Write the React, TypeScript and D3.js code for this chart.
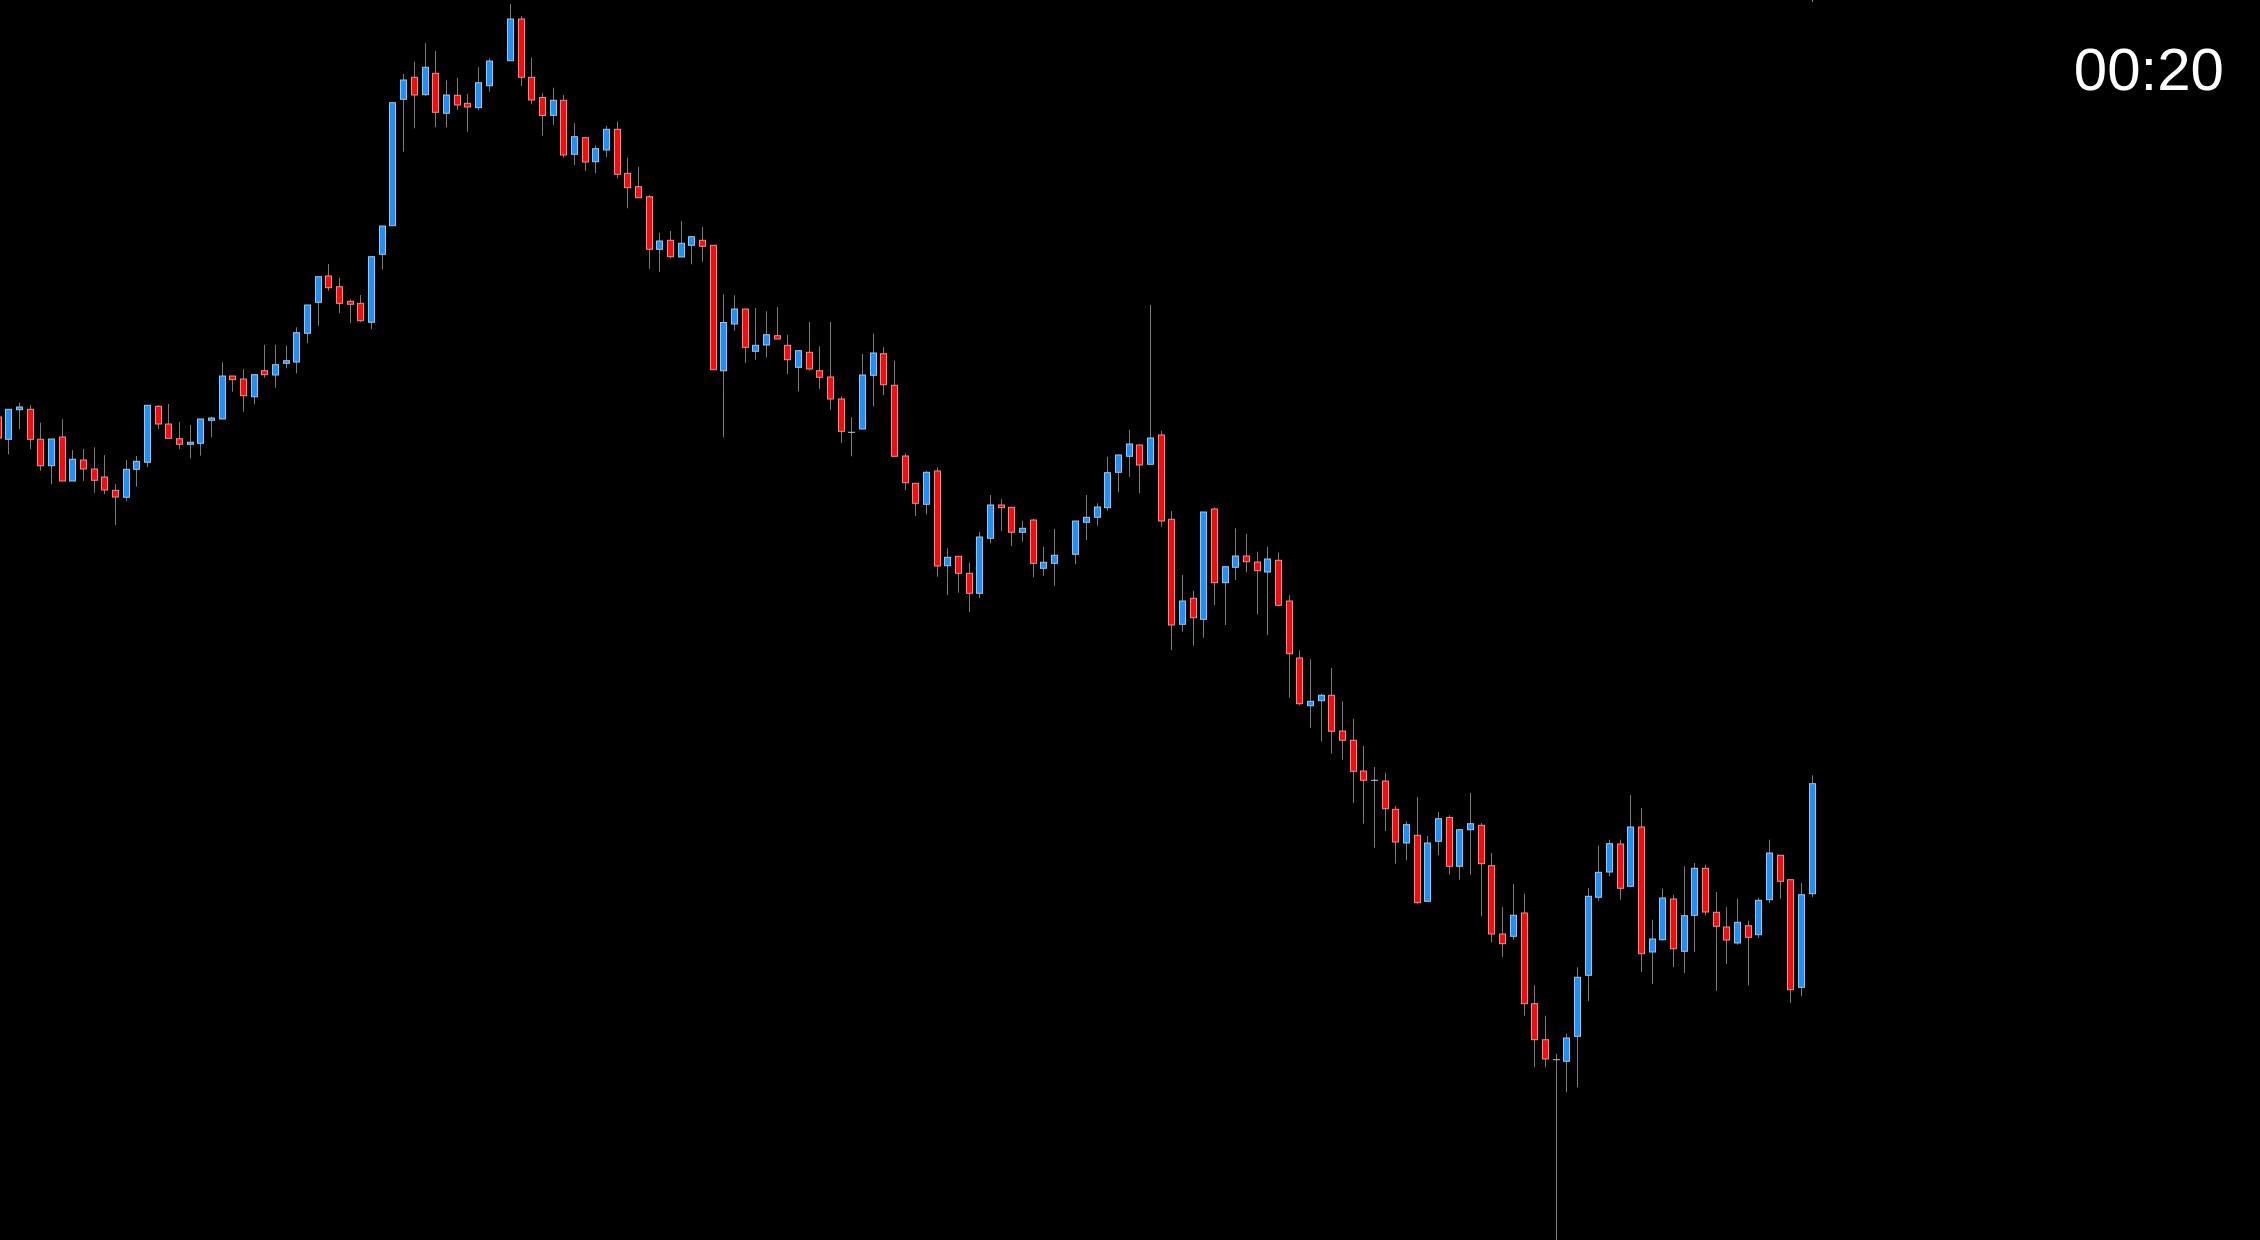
import React from 'react';
import * as d3 from 'd3';

// bar prices, oldest first (null = no bar drawn in that slot)
const opens = [
  823, 800.7, 830.3, 830.7, 800.7, 774.3, 803, 759, 780, 771, 763, 749.7, 742.7, 770.7, 777.7, 833.7, 816, 801.3, 795.7, 796.7,
  819.7, 821, 864, 861, 843.3, 869.3, 865, 876.7, 878, 906.7, 937.7, 964, 953.3, 938.7, 936.7, 917.7, 985.7, 1014.3, 1140.7, 1162.7,
  1145.3, 1166.7, 1126.7, 1144.7, 1136.7, 1132.3, 1154.3, null, 1179.3, 1221, 1162.7, 1142.5, 1124.7, 1139.7, 1085.7, 1102.3, 1078.3, 1090, 1110.7, 1066.7,
  1053.3, 1043.3, 990.7, 999.7, 983, 994.7, 999.7, 994.7, 869.2, 916, 931, 888.7, 895, 904.3, 894.7, 872.7, 887.7, 869.3, 863, 841,
  807.7, 811, 864.7, 886.3, 854.7, 784, 756.7, 735.7, 769, 674.3, 683.7, 666.7, 646.7, 701.7, 735, 732.7, 707.7, 720, 671.7, 676.7,
  null, 685.7, 717.7, 722.7, 732.3, 767.7, 783.7, 795, 775.7, 805, 720.7, 615.7, 641.7, 620.7, 731, 657.3, 672.7, 684, 678, 668,
  679.7, 639, 582, 534.3, 539.3, 544.7, 509, 499.7, 469, 459.7, 459, 430.7, 397, 404.7, 338.7, 398.7, 422.5, 373.7, 410.3, 414.7,
  374.3, 306, 303.7, 327, 236.3, 200.3, 180.3, 178.7, 203.7, 264.7, 342.7, 368, 396, 353.7, 413, 288, 300.3, 341, 288.7, 324.7,
  371.7, 327.7, 313, 297, 314.3, 305.3, 340.3, 384.7, 360.3, 252.7, 346.3,
];
const highs = [
  826, 830.7, 837.3, 835, 817.3, 801, 820.7, 790, 791, 792.7, 785, 755.7, 780, 784, 834.7, 835, 836, 818, 815, 821,
  823.3, 877.7, 864, 870.7, 865.3, 895, 895.3, 894.3, 912.7, 935, 963.3, 976, 962.3, 940.7, 945, 983.3, 1014, 1137.3, 1166, 1178.3,
  1196.7, 1189, 1159.7, 1162, 1146, 1172.7, 1181.7, null, 1236, 1224, 1182.3, 1147, 1152.3, 1145, 1116.7, 1102.3, 1094.7, 1114, 1118.3, 1082.3,
  1073.3, 1045, 1007.3, 1009, 1019, 1003.3, 1013, 994.7, 945.8, 944.7, 931, 932, 928.7, 933, 905.3, 889.3, 918, 893.7, 918, 843.7,
  822.7, 886, 906.3, 892.7, 879.3, 786.7, 756.7, 769, 772.7, 691.7, 683.7, 677.3, 708, 745, 740.7, 732.7, 719, 721, 693.3, 711,
  null, 719, 745, 736.7, 783.3, 785.7, 810, 796, 935, 809.3, 729, 665, 649.3, 728, 732.7, 673.3, 711.7, 706, 688.3, 693.3,
  687.3, 644.7, 589.7, 580.7, 546.3, 572, 538.7, 521.3, 494, 473, 467.3, 434, 418.7, 443, 404, 428, 424.7, 410.3, 447, 417,
  387, 332.7, 356, 346.3, 254.7, 224.3, 186, 206.3, 272.7, 352, 394.3, 400.3, 400.3, 445, 432, 320.3, 351.3, 345.3, 373.7, 377,
  375.3, 348, 332.7, 341.3, 319.3, 342, 400.3, 384.7, 360.3, 357, 464.7,
];
const lows = [
  800, 785.7, 811, 790.7, 769.3, 755.7, 759, 759, 759, 747.3, 745.7, 715, 739.3, 753.3, 772.7, 811, 801.7, 790.7, 781.7, 784.3,
  802.7, 821, 848.3, 828.3, 835.7, 862.3, 852.3, 871.7, 866.7, 896.7, 914.3, 949.3, 926.7, 916.7, 917.7, 910.7, 970.7, 1014.3, 1088.3, 1111.7,
  1144.3, 1112.7, 1112.7, 1130, 1108.3, 1130, 1148.3, null, 1179.3, 1154, 1135.7, 1104.5, 1115, 1082.3, 1075, 1069, 1066.7, 1083, 1061.7, 1031.7,
  1042.3, 971.3, 968, 981.3, 983, 975.7, 978.3, 870.3, 802.5, 909.3, 877, 880.3, 882.7, 901, 866, 848.7, 869.3, 851.3, 830.3, 797,
  783.7, 811, 833.7, 844.7, 783.7, 750, 724, 725.7, 663.3, 645, 647.3, 628, 641.7, 696.7, 709, 694, 698.3, 662.7, 664.3, 654.3,
  null, 675.7, 700, 714.3, 729.3, 747.7, 763.3, 746.7, 775.7, 713.3, 590, 608.3, 594.3, 602.3, 635, 615, 660, 667.7, 625.7, 604.8,
  634.7, 542.3, 534.7, 512, 498.7, 486.3, 480.3, 437, 416.3, 392.3, 409, 376.3, 379.7, 336.3, 338.7, 384.7, 365.5, 360.3, 365.3, 323.7,
  297.7, 283, 300.3, 224.3, 172.7, 172.7, -10, 147.7, 152.7, 238.7, 339.3, 363.7, 340.3, 353, 268, 256, 299.3, 273, 267, 288,
  324.7, 249.3, 276, 295.3, 254.3, 302, 337, 341.3, 237, 243.7, 342.7,
];
const closes = [
  802, 830.7, 833, 800.7, 774.3, 801, 759, 780.7, 771, 759.7, 750, 743, 770.7, 778.7, 834.7, 816, 801.7, 795.7, 797.7, 821,
  822, 864, 860.3, 844.3, 865.3, 865.3, 875.3, 879.3, 907.3, 935, 963.3, 952.3, 936.7, 935.7, 919.3, 983.3, 1014, 1137.3, 1160, 1145,
  1172.7, 1127.7, 1145, 1135, 1133, 1157.3, 1179, null, 1221, 1162.7, 1140, 1124.5, 1139.7, 1085, 1103.3, 1078, 1091.3, 1110.7, 1065.7, 1052.3,
  1042.3, 990.7, 999, 983.3, 996.7, 1003.3, 993.7, 870.3, 917.5, 931, 892.7, 894.7, 905.3, 901, 880.3, 889.3, 871, 862.7, 841, 808.7,
  807.7, 865, 887, 855.3, 783.7, 757.3, 736.7, 767.7, 674, 682.7, 666.7, 646.7, 703, 735, 732.3, 707.7, 711.7, 676.7, 677.7, 684.7,
  null, 719, 722.7, 733, 767.3, 785, 796, 775, 802, 719, 615, 639, 622.3, 728, 657.3, 673.3, 684, 678.3, 669.3, 681,
  634.7, 586.3, 536.3, 538.7, 544.7, 508.7, 499.7, 468.7, 459.7, 459.7, 431.3, 398, 415.3, 337.3, 397, 421.3, 373.7, 410.3, 416.3, 376.3,
  306, 296.3, 324.7, 236.3, 200.3, 181, 180.3, 202, 262.7, 343.7, 367.7, 396.3, 351.7, 413, 286.3, 301, 342, 291.3, 324.3, 371.7,
  328, 313.7, 300, 317.7, 302.7, 339.7, 387, 358.7, 250.3, 345.3, 456.3,
];
const timerLabel = '00:20';

const W = 2260;
const H = 1240;

const App: React.FC = () => {
  const x = d3.scaleLinear().domain([0, opens.length - 1]).range([-2.3, 1811.6]);
  const y = d3.scaleLinear().domain([0, 1240]).range([H, 0]);
  const bodyW = 6;

  const bars = opens.map((o, i) => ({ i, o, h: highs[i], l: lows[i], c: closes[i] }))
    .filter(b => b.o !== null);

  return (
    <svg width={W} height={H} style={{ position: 'fixed', left: 0, top: 0, display: 'block' }}>
      <rect x={0} y={0} width={W} height={H} fill="#000" />
      <g>
        {bars.map(b => {
          const cx = Math.round(x(b.i)) + 0.5;
          const o = b.o as number, c = b.c as number;
          const up = c > o;
          const doji = c === o;
          const top = y(Math.max(o, c));
          const bot = y(Math.min(o, c));
          return (
            <g key={b.i}>
              <line x1={cx} x2={cx} y1={y(b.h as number)} y2={y(b.l as number)} stroke="#7a7a7a" strokeWidth={1} />
              {doji ? (
                <line x1={cx - 3.5} x2={cx + 3.5} y1={top} y2={top} stroke="#c8c8c8" strokeWidth={1} />
              ) : (
                <rect
                  x={cx - bodyW / 2}
                  y={top}
                  width={bodyW}
                  height={Math.max(1, bot - top)}
                  fill={up ? '#2290f0' : '#ec1010'}
                  stroke={up ? '#9cc4e8' : '#f08a8a'}
                  strokeWidth={1}
                />
              )}
            </g>
          );
        })}
      </g>
      <line x1={Math.round(x(opens.length - 1)) + 0.5} x2={Math.round(x(opens.length - 1)) + 0.5} y1={0} y2={2} stroke="#8a8a8a" />
      <text
        x={2224}
        y={90}
        textAnchor="end"
        fill="#fff"
        fontFamily="'Liberation Sans', Arial, sans-serif"
        fontSize={60}
      >
        {timerLabel}
      </text>
    </svg>
  );
};

export default App;
